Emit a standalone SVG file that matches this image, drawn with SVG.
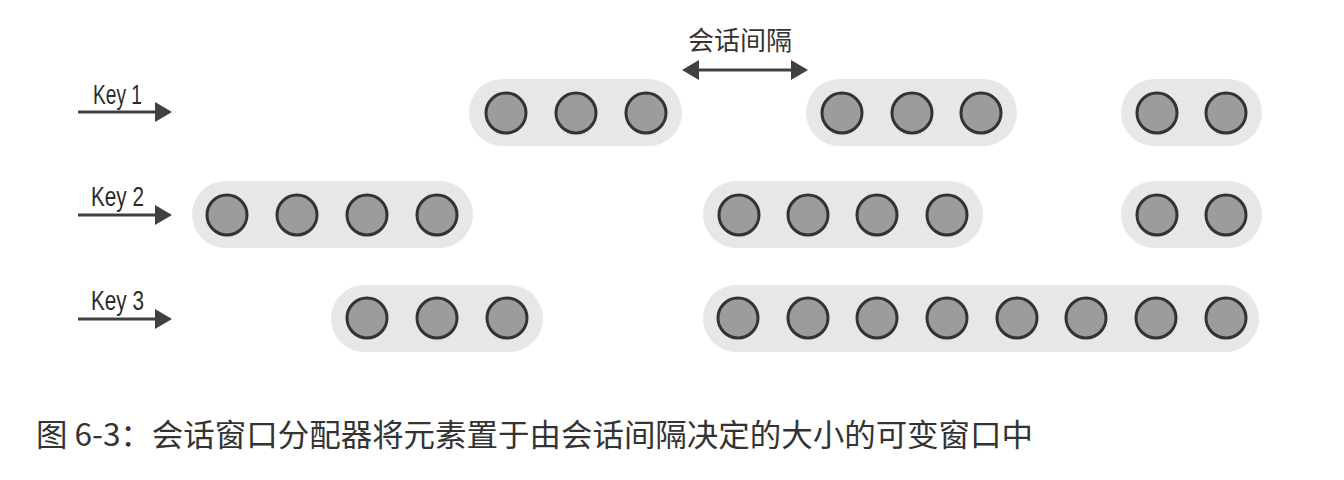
<svg xmlns="http://www.w3.org/2000/svg" width="1344" height="480" viewBox="0 0 1344 480">
  <style>
    .win { fill: #e7e7e7; }
    .ev { fill: #9c9c9c; stroke: #333333; stroke-width: 3; }
    .key { font-family: "Liberation Sans", "DejaVu Sans", sans-serif; font-size: 28px; fill: #2b2b2b; }
    .arr { stroke: #404040; stroke-width: 3; fill: none; }
    .cjk { font-family: "Noto Sans CJK SC", "Noto Sans", sans-serif; fill: #333333; }
  </style>
  <defs>
    <marker id="ah" viewBox="0 0 17 20" refX="1" refY="10" markerUnits="userSpaceOnUse" markerWidth="17" markerHeight="20" orient="auto-start-reverse">
      <path d="M0,0 L17,10 L0,20 z" fill="#404040"/>
    </marker>
    <circle id="e" r="20" class="ev"/>
  </defs>
  <rect width="1344" height="480" fill="#ffffff"/>

  <g id="gap-label">
    <text class="cjk" x="688" y="50" font-size="26">会话间隔</text>
  </g>

  <g id="key1">
    <text class="key" x="93" y="104" textLength="49" lengthAdjust="spacingAndGlyphs">Key 1</text>
  </g>
  <g id="key2">
    <text class="key" x="91" y="206" textLength="53" lengthAdjust="spacingAndGlyphs">Key 2</text>
  </g>
  <g id="key3">
    <text class="key" x="91" y="310" textLength="53" lengthAdjust="spacingAndGlyphs">Key 3</text>
  </g>

  <g id="connectors">
    <line class="arr" x1="78" y1="112" x2="156" y2="112" marker-end="url(#ah)"/>
    <line class="arr" x1="78" y1="215" x2="156" y2="215" marker-end="url(#ah)"/>
    <line class="arr" x1="78" y1="319" x2="156" y2="319" marker-end="url(#ah)"/>
    <line class="arr" x1="698" y1="70" x2="792" y2="70" marker-start="url(#ah)" marker-end="url(#ah)"/>
  </g>

  <!-- Row 1 -->
  <g id="k1-w1">
    <rect class="win" x="469" y="79" width="213" height="67" rx="33.5"/>
    <use href="#e" x="506" y="113"/><use href="#e" x="576" y="113"/><use href="#e" x="646" y="113"/>
  </g>
  <g id="k1-w2">
    <rect class="win" x="806" y="79" width="211" height="67" rx="33.5"/>
    <use href="#e" x="842" y="113"/><use href="#e" x="912" y="113"/><use href="#e" x="981" y="113"/>
  </g>
  <g id="k1-w3">
    <rect class="win" x="1121" y="79" width="141" height="67" rx="33.5"/>
    <use href="#e" x="1157" y="113"/><use href="#e" x="1226" y="113"/>
  </g>

  <!-- Row 2 -->
  <g id="k2-w1">
    <rect class="win" x="192" y="181" width="281" height="67" rx="33.5"/>
    <use href="#e" x="227" y="215"/><use href="#e" x="297" y="215"/><use href="#e" x="367" y="215"/><use href="#e" x="437" y="215"/>
  </g>
  <g id="k2-w2">
    <rect class="win" x="703" y="181" width="280" height="67" rx="33.5"/>
    <use href="#e" x="739" y="215"/><use href="#e" x="808" y="215"/><use href="#e" x="877" y="215"/><use href="#e" x="947" y="215"/>
  </g>
  <g id="k2-w3">
    <rect class="win" x="1121" y="181" width="141" height="67" rx="33.5"/>
    <use href="#e" x="1157" y="215"/><use href="#e" x="1226" y="215"/>
  </g>

  <!-- Row 3 -->
  <g id="k3-w1">
    <rect class="win" x="331" y="285" width="212" height="67" rx="33.5"/>
    <use href="#e" x="367" y="318"/><use href="#e" x="437" y="318"/><use href="#e" x="507" y="318"/>
  </g>
  <g id="k3-w2">
    <rect class="win" x="703" y="285" width="556" height="67" rx="33.5"/>
    <use href="#e" x="738" y="318"/><use href="#e" x="808" y="318"/><use href="#e" x="877" y="318"/><use href="#e" x="947" y="318"/>
    <use href="#e" x="1017" y="318"/><use href="#e" x="1086" y="318"/><use href="#e" x="1156" y="318"/><use href="#e" x="1226" y="318"/>
  </g>

  <g id="caption">
    <text class="cjk" x="36" y="446" font-size="31" textLength="997" lengthAdjust="spacingAndGlyphs">图 6-3：会话窗口分配器将元素置于由会话间隔决定的大小的可变窗口中</text>
  </g>
</svg>
